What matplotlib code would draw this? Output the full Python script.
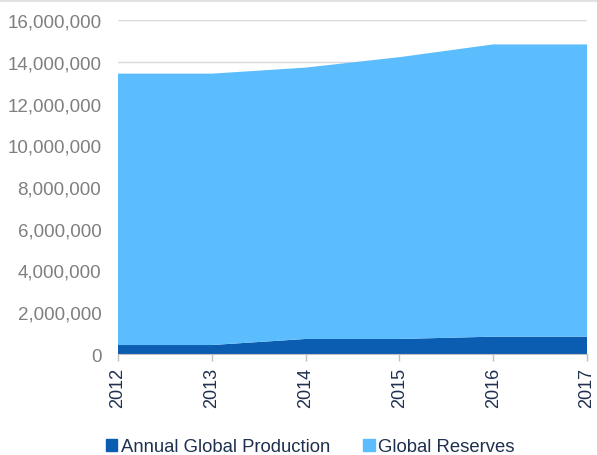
import numpy as np
import matplotlib.pyplot as plt
from matplotlib.patches import Patch
from matplotlib.lines import Line2D
from matplotlib.ticker import FuncFormatter

plt.rcParams['font.family'] = ['Liberation Sans', 'DejaVu Sans']

years = [2012, 2013, 2014, 2015, 2016, 2017]
production = [430000, 430000, 720000, 720000, 830000, 830000]
reserves = [13000000, 13000000, 13000000, 13500000, 14000000, 14000000]

prodColor = '#0b5db1'
resColor = '#5bbdfe'
navy = '#1f2f4f'
grey = '#7f7f7f'

fig = plt.figure(figsize=(5.97, 4.56), dpi=100)
axes = fig.add_axes([118/597, 1 - 355/456, (587 - 118)/597, (355 - 21)/456])

x = np.arange(len(years))
axes.stackplot(x, production, reserves, colors=[prodColor, resColor], lw=0)

axes.set_xlim(0, len(years) - 1)
axes.set_ylim(0, 16000000)
axes.set_yticks(np.arange(0, 16000001, 2000000))
axes.yaxis.set_major_formatter(FuncFormatter(lambda v, p: f"{int(v):,}"))
axes.set_xticks(x)
axes.set_xticklabels([str(y) for y in years], rotation=90, color=navy, fontsize=13)
axes.tick_params(axis='y', length=0, pad=12, labelcolor=grey, labelsize=13.5)
axes.tick_params(axis='x', length=5, width=1, color='#bfbfbf', pad=4)

axes.grid(axis='y', color='#d9d9d9', lw=1)
axes.set_axisbelow(True)
for s in ['top', 'right', 'left']:
    axes.spines[s].set_visible(False)
axes.spines['bottom'].set_color('#bfbfbf')
axes.spines['bottom'].set_zorder(5)

handles = [Patch(color=prodColor, label='Annual Global Production'),
           Patch(color=resColor, label='Global Reserves')]
fig.legend(handles=handles, loc='center', bbox_to_anchor=(0.52, 1 - 448/456),
           ncol=2, frameon=False, fontsize=13.3, handlelength=0.6, handleheight=0.6,
           handletextpad=0.2, columnspacing=1.8, labelcolor=navy)

# thin grey border strip along the top edge
fig.add_artist(Line2D([0, 1], [0.998, 0.998], transform=fig.transFigure, color='#e0e0e0', lw=2))

fig.savefig('out.png', dpi=100)
